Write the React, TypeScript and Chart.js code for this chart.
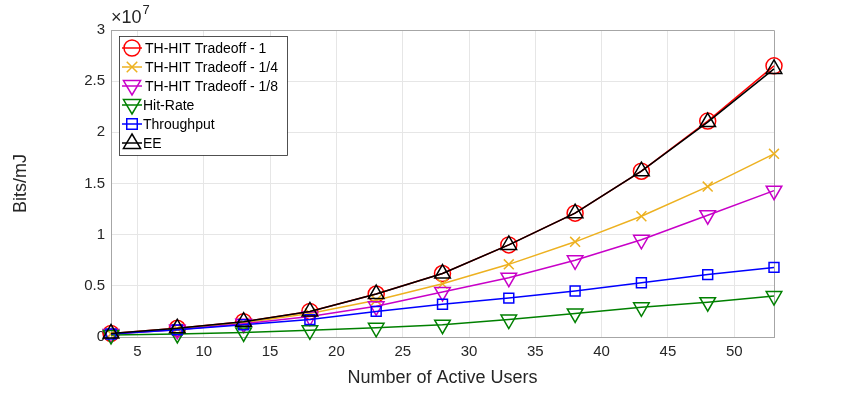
import React, { useEffect, useRef } from "react";
import { Chart, registerables } from "chart.js";

Chart.register(...registerables);

const users = [3, 8, 13, 18, 23, 28, 33, 38, 43, 48, 53];
const tradeoff1 = [0.035, 0.085, 0.15, 0.25, 0.42, 0.62, 0.9, 1.21, 1.62, 2.11, 2.65];
const tradeoffQuarter = [0.03, 0.08, 0.14, 0.23, 0.36, 0.52, 0.71, 0.93, 1.18, 1.47, 1.79];
const tradeoffEighth = [0.03, 0.07, 0.13, 0.2, 0.3, 0.44, 0.58, 0.75, 0.95, 1.19, 1.43];
const hitRate = [0.02, 0.03, 0.045, 0.065, 0.09, 0.12, 0.17, 0.23, 0.29, 0.34, 0.4];
const throughput = [0.03, 0.07, 0.12, 0.17, 0.25, 0.32, 0.38, 0.45, 0.53, 0.61, 0.68];
const ee = [0.035, 0.085, 0.15, 0.25, 0.42, 0.62, 0.9, 1.21, 1.62, 2.1, 2.62];
const xTicks = [5, 10, 15, 20, 25, 30, 35, 40, 45, 50];
const yTicks = [0, 0.5, 1, 1.5, 2, 2.5, 3];
const seriesNames = [
  "TH-HIT Tradeoff - 1",
  "TH-HIT Tradeoff - 1/4",
  "TH-HIT Tradeoff - 1/8",
  "Hit-Rate",
  "Throughput",
  "EE",
];

const FONT = "'Liberation Sans', Arial, sans-serif";
const TEXT = "#262626";

const styles = [
  { color: "#ff0000", point: "circle", rot: 0, r: 8 },
  { color: "#edb120", point: "crossRot", rot: 0, r: 7 },
  { color: "#c800c8", point: "triangle", rot: 180, r: 9 },
  { color: "#008000", point: "triangle", rot: 180, r: 9 },
  { color: "#0000ff", point: "rect", rot: 0, r: 7 },
  { color: "#000000", point: "triangle", rot: 0, r: 9 },
];

function drawMarker(ctx: CanvasRenderingContext2D, style: string, rot: number, r: number, x: number, y: number) {
  ctx.beginPath();
  if (style === "circle") {
    ctx.arc(x, y, r, 0, Math.PI * 2);
  } else if (style === "crossRot") {
    const d = r * 0.75;
    ctx.moveTo(x - d, y - d); ctx.lineTo(x + d, y + d);
    ctx.moveTo(x + d, y - d); ctx.lineTo(x - d, y + d);
  } else if (style === "rect") {
    const d = r * 0.75;
    ctx.rect(x - d, y - d, 2 * d, 2 * d);
  } else if (style === "triangle") {
    const s = rot === 180 ? -1 : 1;
    const h = r;
    ctx.moveTo(x, y - s * h);
    ctx.lineTo(x + h * 0.95, y + s * h * 0.6);
    ctx.lineTo(x - h * 0.95, y + s * h * 0.6);
    ctx.closePath();
  }
  ctx.stroke();
}

const decorPlugin = {
  id: "decor",
  beforeDatasetsDraw(chart: any) {
    const { ctx, chartArea } = chart;
    const { left, right, top, bottom } = chartArea;
    ctx.save();
    ctx.strokeStyle = "#a6a6a6";
    ctx.lineWidth = 1;
    ctx.beginPath();
    ctx.moveTo(left + 0.5, top + 0.5);
    ctx.lineTo(right + 0.5, top + 0.5);
    ctx.lineTo(right + 0.5, bottom + 0.5);
    ctx.stroke();
    ctx.restore();
  },
  afterDraw(chart: any) {
    const { ctx, chartArea } = chart;
    const { left, top } = chartArea;
    ctx.save();
    // exponent label
    ctx.fillStyle = TEXT;
    ctx.textBaseline = "alphabetic";
    ctx.textAlign = "left";
    ctx.font = `18px ${FONT}`;
    ctx.fillText("\u00d710", left, top - 7);
    const w = ctx.measureText("\u00d710").width;
    ctx.font = `13px ${FONT}`;
    ctx.fillText("7", left + w + 1, top - 16);
    // legend
    const lx = left + 8;
    const ly = top + 6;
    const lw = 168;
    const lh = 119;
    ctx.fillStyle = "#ffffff";
    ctx.fillRect(lx, ly, lw, lh);
    ctx.strokeStyle = "#262626";
    ctx.lineWidth = 0.8;
    ctx.strokeRect(lx + 0.5, ly + 0.5, lw, lh);
    ctx.font = `14px ${FONT}`;
    ctx.textBaseline = "middle";
    seriesNames.forEach((name, i) => {
      const st = styles[i];
      const y = ly + 12 + i * 19;
      ctx.strokeStyle = st.color;
      ctx.lineWidth = 1.5;
      ctx.beginPath();
      ctx.moveTo(lx + 3, y);
      ctx.lineTo(lx + 23, y);
      ctx.stroke();
      drawMarker(ctx, st.point, st.rot, st.r, lx + 13, y);
      ctx.fillStyle = "#000000";
      ctx.fillText(name, lx + (i < 3 ? 26 : 24), y + 1);
    });
    ctx.restore();
  },
};

export default function App() {
  const ref = useRef<HTMLCanvasElement>(null);
  useEffect(() => {
    if (!ref.current) return;
    const data = [tradeoff1, tradeoffQuarter, tradeoffEighth, hitRate, throughput, ee];
    const chart = new Chart(ref.current, {
      type: "line",
      data: {
        datasets: data.map((vals, i) => ({
          label: seriesNames[i],
          data: users.map((u, j) => ({ x: u, y: vals[j] })),
          borderColor: styles[i].color,
          backgroundColor: "transparent",
          borderWidth: 1.5,
          pointStyle: styles[i].point as any,
          rotation: styles[i].rot,
          pointRadius: styles[i].r,
          pointBorderWidth: 1.5,
          pointBackgroundColor: "transparent",
          pointBorderColor: styles[i].color,
          tension: 0,
          clip: false as any,
          order: 5 - i,
        })),
      },
      options: {
        animation: false,
        responsive: false,
        layout: { padding: { left: 0, right: 81, top: 30, bottom: 0 } },
        plugins: { legend: { display: false }, tooltip: { enabled: false } },
        scales: {
          x: {
            type: "linear",
            min: 3,
            max: 53,
            afterBuildTicks: (s: any) => { s.ticks = xTicks.map((v) => ({ value: v })); },
            afterFit: (s: any) => { s.height = 56; },
            grid: { color: "#e6e6e6", drawTicks: false },
            border: { color: "#a6a6a6" },
            ticks: { color: TEXT, font: { family: FONT, size: 15 }, padding: 6, maxRotation: 0 },
            title: { display: true, text: "Number of Active Users", color: TEXT, font: { family: FONT, size: 18 }, padding: { top: 4 } },
          },
          y: {
            type: "linear",
            min: 0,
            max: 3,
            afterBuildTicks: (s: any) => { s.ticks = yTicks.map((v) => ({ value: v })); },
            afterFit: (s: any) => { s.width = 111; },
            grid: { color: "#e6e6e6", drawTicks: false },
            border: { color: "#a6a6a6" },
            ticks: { color: TEXT, font: { family: FONT, size: 15 }, padding: 6, callback: (v: any) => String(v) },
            title: { display: true, text: "Bits/mJ", color: TEXT, font: { family: FONT, size: 18 }, padding: { top: 10, bottom: 16 } },
          },
        },
      },
      plugins: [decorPlugin],
    });
    return () => chart.destroy();
  }, []);
  return (
    <div style={{ position: "fixed", left: 0, top: 0, width: 855, height: 393, background: "#fff" }}>
      <canvas ref={ref} width={855} height={393} style={{ width: 855, height: 393 }} />
    </div>
  );
}
